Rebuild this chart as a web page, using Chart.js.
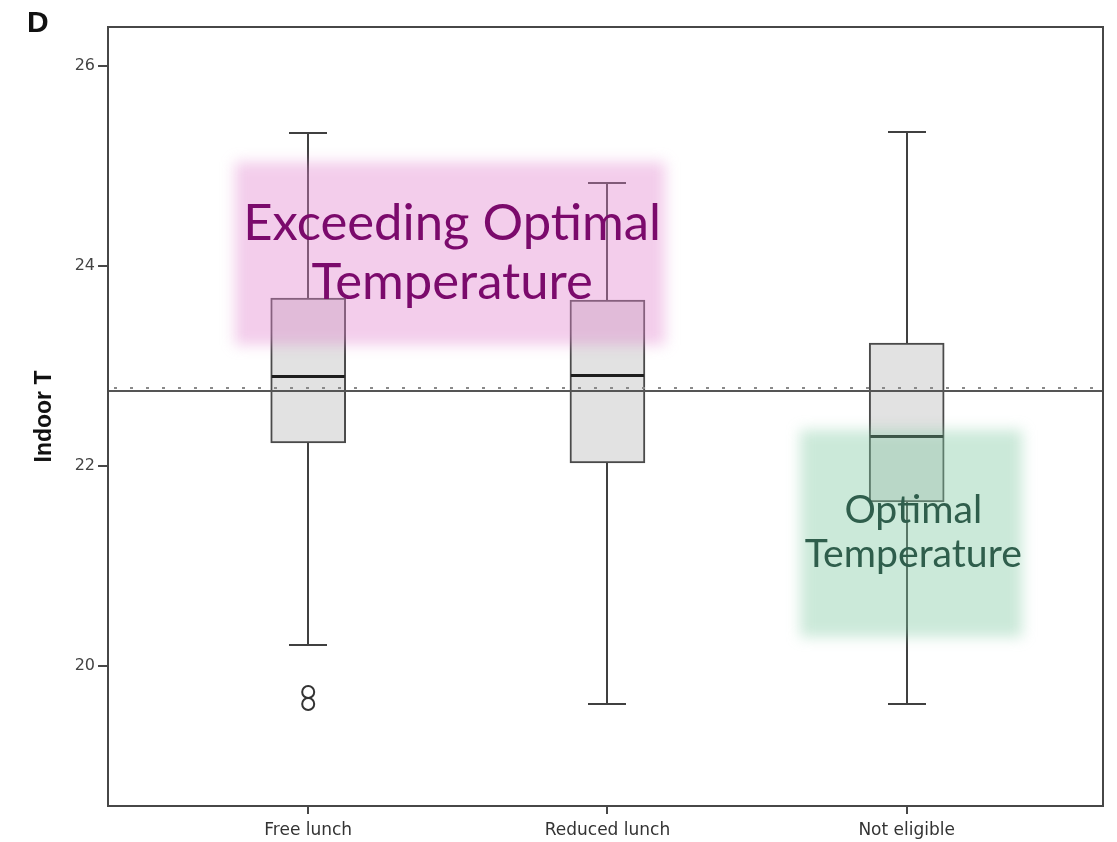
<!DOCTYPE html>
<html>
<head>
<meta charset="utf-8">
<script src="https://cdn.jsdelivr.net/npm/chart.js@4.4.1/dist/chart.umd.min.js"></script>
<style>
  html, body { margin: 0; padding: 0; background: #fff; }
  #chart-container { display: block; }
</style>
</head>
<body>
<canvas id="chart-container" width="1117" height="842"></canvas>
<script>
// Datos del diagrama de cajas
const categories = ['Free lunch', 'Reduced lunch', 'Not eligible'];
const maxValues = [25.33, 24.83, 25.34];
const q3Values = [23.68, 23.66, 23.23];
const medianValues = [22.90, 22.91, 22.30];
const q1Values = [22.23, 22.03, 21.64];
const minValues = [20.21, 19.62, 19.62];

// Valores atípicos (categoría 1 = Free lunch)
const outlierCategory = [1, 1];
const outlierValues = [19.74, 19.62];

// Líneas horizontales de referencia
const referenceSolid = 22.75;
const referenceDotted = 22.785;

// Marcas del eje Y
const yTicks = [20, 22, 24, 26];

// Zonas resaltadas (en coordenadas de los ejes)
const highlights = [
  {
    xMin: 0.755, xMax: 2.193, yMin: 23.21, yMax: 25.04,
    color: 'rgba(225, 130, 205, 0.40)',
    textColor: '#7b0a6c',
    lines: ['Exceeding Optimal', 'Temperature'],
    textX: 1.481, baselines: [24.26, 23.67],
    fitWidth: 418
  },
  {
    xMin: 2.644, xMax: 3.386, yMin: 20.29, yMax: 22.36,
    color: 'rgba(125, 200, 160, 0.40)',
    textColor: '#2f5e4c',
    lines: ['Optimal', 'Temperature'],
    textX: 3.022, baselines: [21.43, 20.99],
    fitWidth: 217
  }
];

const lineColor = '#474747';

// Plugin para bigotes, medianas, líneas de referencia, zonas y marco
const boxExtras = {
  id: 'boxExtras',
  afterDatasetsDraw(chart) {
    const { ctx, chartArea: area, scales: { x, y } } = chart;
    ctx.save();

    // Bigotes
    ctx.strokeStyle = '#404040';
    ctx.lineWidth = 2;
    categories.forEach((c, i) => {
      const px = Math.round(x.getPixelForValue(i + 1));
      const capHalf = 19;
      const yMax = Math.round(y.getPixelForValue(maxValues[i]));
      const yQ3 = y.getPixelForValue(q3Values[i]);
      const yQ1 = y.getPixelForValue(q1Values[i]);
      const yMin = Math.round(y.getPixelForValue(minValues[i]));
      ctx.beginPath();
      ctx.moveTo(px, yMax); ctx.lineTo(px, yQ3);
      ctx.moveTo(px, yQ1); ctx.lineTo(px, yMin);
      ctx.moveTo(px - capHalf, yMax); ctx.lineTo(px + capHalf, yMax);
      ctx.moveTo(px - capHalf, yMin); ctx.lineTo(px + capHalf, yMin);
      ctx.stroke();
    });

    // Medianas
    ctx.strokeStyle = '#1e1e1e';
    ctx.lineWidth = 3;
    categories.forEach((c, i) => {
      const px = x.getPixelForValue(i + 1);
      const py = Math.round(y.getPixelForValue(medianValues[i])) + 0.5;
      ctx.beginPath();
      ctx.moveTo(px - 36.5, py); ctx.lineTo(px + 36.5, py);
      ctx.stroke();
    });

    // Línea de referencia punteada
    let py = Math.round(y.getPixelForValue(referenceDotted));
    ctx.strokeStyle = '#8a8a8a';
    ctx.lineWidth = 2;
    ctx.setLineDash([3, 13]);
    ctx.beginPath();
    ctx.moveTo(area.left + 6, py); ctx.lineTo(area.right, py);
    ctx.stroke();
    ctx.setLineDash([]);

    // Línea de referencia continua
    py = Math.round(y.getPixelForValue(referenceSolid));
    ctx.strokeStyle = '#555';
    ctx.lineWidth = 2;
    ctx.beginPath();
    ctx.moveTo(area.left, py); ctx.lineTo(area.right, py);
    ctx.stroke();

    // Zonas resaltadas con su texto
    highlights.forEach(h => {
      const x0 = x.getPixelForValue(h.xMin);
      const x1 = x.getPixelForValue(h.xMax);
      const y0 = y.getPixelForValue(h.yMax);
      const y1 = y.getPixelForValue(h.yMin);
      ctx.save();
      ctx.filter = 'blur(7px)';
      ctx.fillStyle = h.color;
      ctx.fillRect(x0, y0, x1 - x0, y1 - y0);
      ctx.restore();

      // Ajustar el tamaño de letra al ancho de la línea más larga
      ctx.font = '40px Lato';
      const widest = Math.max(...h.lines.map(l => ctx.measureText(l).width));
      const size = 40 * h.fitWidth / widest;
      ctx.font = size.toFixed(1) + 'px Lato';
      ctx.fillStyle = h.textColor;
      ctx.textAlign = 'center';
      ctx.textBaseline = 'alphabetic';
      h.lines.forEach((line, k) => {
        ctx.fillText(line, x.getPixelForValue(h.textX), y.getPixelForValue(h.baselines[k]));
      });
    });

    // Marco completo del gráfico
    ctx.strokeStyle = lineColor;
    ctx.lineWidth = 2;
    ctx.strokeRect(area.left, area.top, area.right - area.left, area.bottom - area.top);

    // Letra del panel
    ctx.fillStyle = '#111';
    ctx.font = 'bold 30px "Liberation Sans"';
    ctx.textAlign = 'left';
    ctx.fillText('D', 27, 32);

    ctx.restore();
  }
};

function createChart() {
  const ctx = document.getElementById('chart-container').getContext('2d');

  const data = {
    datasets: [
      {
        type: 'scatter',
        label: 'Outliers',
        data: outlierValues.map((v, i) => ({ x: outlierCategory[i], y: v })),
        pointStyle: 'circle',
        pointRadius: 6,
        pointBorderWidth: 2,
        pointBackgroundColor: 'rgba(0,0,0,0)',
        pointBorderColor: '#333',
        showLine: false
      },
      {
        type: 'bar',
        label: 'Indoor T',
        data: categories.map((c, i) => ({ x: i + 1, y: [q1Values[i], q3Values[i]] })),
        backgroundColor: '#e2e2e2',
        borderColor: '#4a4a4a',
        borderWidth: 2,
        borderSkipped: false,
        barThickness: 75,
        grouped: false
      }
    ]
  };

  const options = {
    responsive: false,
    animation: false,
    layout: { padding: { top: 27, right: 14, left: 0, bottom: 0 } },
    plugins: {
      legend: { display: false },
      tooltip: { enabled: false }
    },
    scales: {
      x: {
        type: 'linear',
        min: 0.331,
        max: 3.656,
        offset: false,
        afterBuildTicks: scale => { scale.ticks = categories.map((c, i) => ({ value: i + 1 })); },
        afterFit: scale => { scale.height = 36; },
        ticks: {
          color: '#333',
          padding: 6,
          font: { family: 'DejaVu Sans', size: 17 },
          callback: v => categories[v - 1]
        },
        grid: { offset: false, drawOnChartArea: false, drawTicks: true, tickLength: 8, tickColor: lineColor, lineWidth: 2 },
        border: { display: true, color: lineColor, width: 2 }
      },
      y: {
        type: 'linear',
        min: 18.6,
        max: 26.39,
        afterBuildTicks: scale => { scale.ticks = yTicks.map(v => ({ value: v })); },
        afterFit: scale => { scale.width = 108; },
        ticks: {
          color: '#444',
          padding: 3,
          font: { family: 'DejaVu Sans', size: 16 },
          callback: v => String(v)
        },
        grid: { drawOnChartArea: false, drawTicks: true, tickLength: 10, tickColor: lineColor, lineWidth: 2 },
        border: { display: true, color: lineColor, width: 2 },
        title: {
          display: true,
          text: 'Indoor T',
          color: '#111',
          font: { family: 'Liberation Sans', size: 23, weight: 'bold', lineHeight: 1.2 },
          padding: { top: 31, bottom: 0 }
        }
      }
    }
  };

  window.myChart = new Chart(ctx, { type: 'bar', data: data, options: options, plugins: [boxExtras] });
}

document.addEventListener('DOMContentLoaded', function() {
  createChart();
});
</script>
</body>
</html>
